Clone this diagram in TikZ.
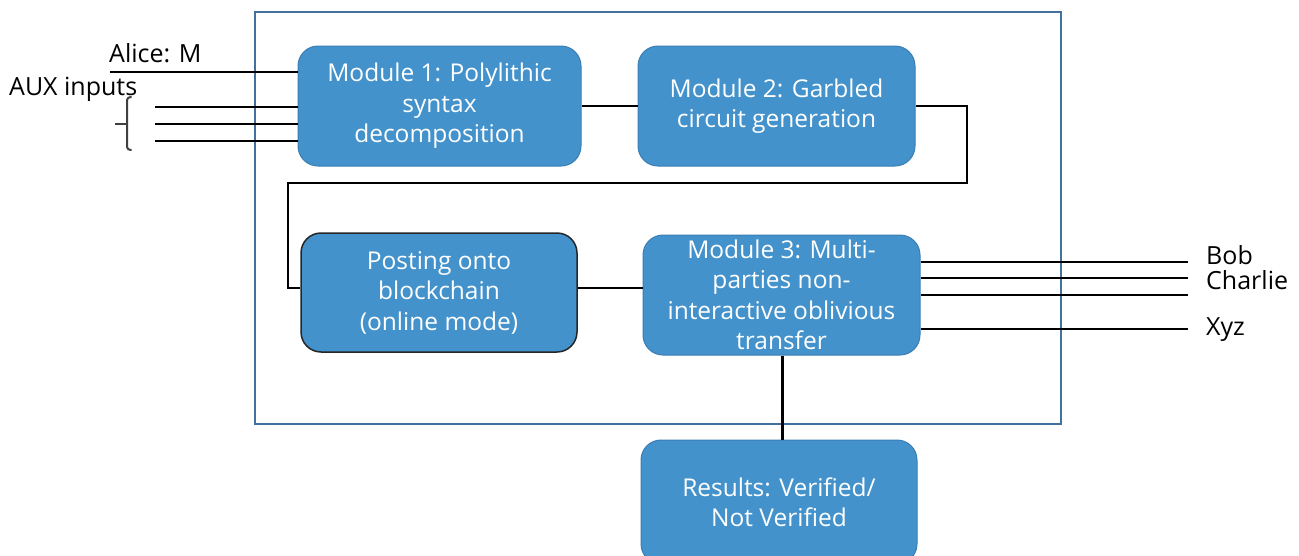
\documentclass[tikz,border=0pt]{standalone}
\usepackage{fontspec}
\setmainfont{Open Sans}
\begin{document}
\begin{tikzpicture}[x=1pt,y=-1pt,
  modbox/.style={draw=modedge, line width=1pt, fill=modfill, rounded corners=20pt,
    text=white, align=center, font=\fontsize{24.5}{30.5}\selectfont, inner sep=0pt},
  wire/.style={draw=black, line width=2.5pt},
  lbl/.style={font=\fontsize{25}{28}\selectfont, inner sep=0pt, anchor=base west}]
\definecolor{modfill}{HTML}{4392CB}
\definecolor{modedge}{HTML}{3A7EB4}
\definecolor{frame}{HTML}{41719C}
\useasboundingbox (0,0) rectangle (1299,555);

% outer system frame
\draw[frame, line width=2pt] (255,12) rectangle (1061,424);

% modules
\node[modbox, minimum width=283pt, minimum height=120pt] (m1) at (439.5,106)
  {Module 1: Polylithic\\syntax\\decomposition};
\node[modbox, minimum width=277pt, minimum height=120pt] (m2) at (776.5,106)
  {Module 2: Garbled\\circuit generation};
\node[modbox, draw=black!85, line width=1.5pt, minimum width=276pt, minimum height=119pt] (post) at (439,292.5)
  {Posting onto\\blockchain\\(online mode)};
\node[modbox, minimum width=277pt, minimum height=120pt] (m3) at (781.5,295)
  {Module 3: Multi-\\parties non-\\interactive oblivious\\transfer};
\node[modbox, minimum width=276pt, minimum height=124pt] (res) at (779,502)
  {Results: Verified/\\Not Verified};

% inputs
\node[lbl] (alice) at (109,62) {Alice: M};
\node[lbl] (aux) at (9,95) {AUX inputs};
\coordinate (ain) at (110,72);
\coordinate (x1) at (155,107);
\coordinate (x2) at (155,124);
\coordinate (x3) at (155,141);
\draw[line width=2pt] (ain) -- (ain -| m1.west);
\draw[line width=2pt] (x1) -- (x1 -| m1.west);
\draw[line width=2pt] (x2) -- (x2 -| m1.west);
\draw[line width=2pt] (x3) -- (x3 -| m1.west);
% bracket grouping the auxiliary inputs
\draw[black!75, line width=2pt, line cap=round]
  (131,97) to[out=180,in=90] (127,100) -- (127,147) to[out=-90,in=180] (131,150);
\draw[black!75, line width=2pt] (115,124) -- (127,124);

% module chain
\draw[line width=2pt] (m1.east |- 0,106) -- (m2.west |- 0,106);
\coordinate (r1) at (967,106);
\coordinate (r2) at (967,183);
\coordinate (r3) at (288,183);
\coordinate (r4) at (288,288);
\draw[wire] (m2.east |- r1) -- (r1) -- (r2) -- (r3) -- (r4) -- (post.west |- r4);
\draw[line width=2pt] (post.east |- 0,288) -- (m3.west |- 0,288);

% outputs
\node[lbl] (bob) at (1206,264) {Bob};
\node[lbl] (charlie) at (1206,289) {Charlie};
\node[lbl] (xyz) at (1206,335) {Xyz};
\coordinate (o1) at (1188,262);
\coordinate (o2) at (1188,278);
\coordinate (o3) at (1188,295);
\coordinate (o4) at (1188,329);
\draw[line width=2pt] (m3.east |- o1) -- (o1);
\draw[line width=2pt] (m3.east |- o2) -- (o2);
\draw[line width=2pt] (m3.east |- o3) -- (o3);
\draw[line width=2pt] (m3.east |- o4) -- (o4);

% verification result
\draw[line width=3pt] (m3.south -| 782,0) -- (res.north -| 782,0);
\end{tikzpicture}
\end{document}
